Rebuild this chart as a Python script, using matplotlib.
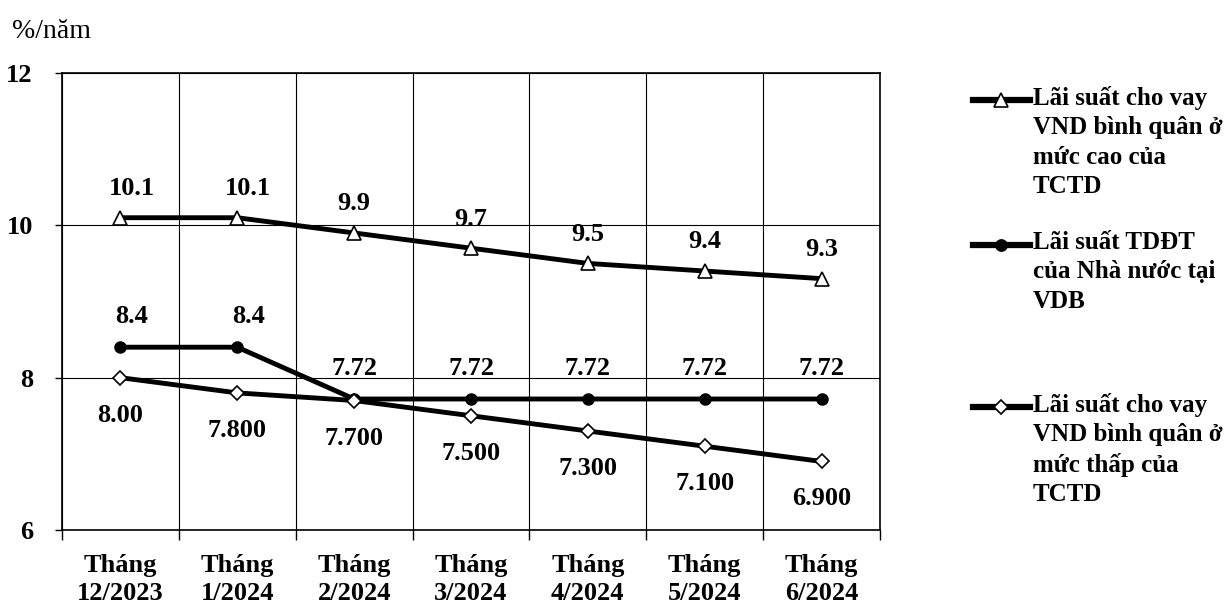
import matplotlib
matplotlib.use('Agg')
import matplotlib.pyplot as plt
from matplotlib.lines import Line2D
import numpy as np

months = ['Tháng\n12/2023', 'Tháng\n1/2024', 'Tháng\n2/2024', 'Tháng\n3/2024',
          'Tháng\n4/2024', 'Tháng\n5/2024', 'Tháng\n6/2024']
high_rate = [10.1, 10.1, 9.9, 9.7, 9.5, 9.4, 9.3]
high_labels = ['10.1', '10.1', '9.9', '9.7', '9.5', '9.4', '9.3']
vdb_rate = [8.4, 8.4, 7.72, 7.72, 7.72, 7.72, 7.72]
vdb_labels = ['8.4', '8.4', '7.72', '7.72', '7.72', '7.72', '7.72']
low_rate = [8.0, 7.8, 7.7, 7.5, 7.3, 7.1, 6.9]
low_labels = ['8.00', '7.800', '7.700', '7.500', '7.300', '7.100', '6.900']
legend_names = ['Lãi suất cho vay\nVND bình quân ở\nmức cao của\nTCTD',
                'Lãi suất TDĐT\ncủa Nhà nước tại\nVDB',
                'Lãi suất cho vay\nVND bình quân ở\nmức thấp của\nTCTD']

plt.rcParams['font.family'] = ['Liberation Serif', 'DejaVu Serif']
plt.rcParams['font.weight'] = 'bold'
fs = 19

fig = plt.figure(figsize=(12.3, 6.06), dpi=100)
ax = fig.add_axes([62 / 1230, 1 - 530 / 606, 818 / 1230, 457 / 606])

x = np.arange(len(months))
lw = 3.5
ax.plot(x, high_rate, color='black', lw=lw, marker='^', ms=10, mfc='white', mec='black', mew=1.2, zorder=3)
ax.plot(x, vdb_rate, color='black', lw=lw, marker='o', ms=8, mfc='black', mec='black', zorder=3)
ax.plot(x, low_rate, color='black', lw=lw, marker='D', ms=7, mfc='white', mec='black', mew=1.2, zorder=4)

for xi, v, s in zip(x, high_rate, high_labels):
    ax.annotate(s, (xi, v), xytext=(8 if xi < 2 else 0, 21), textcoords='offset points', ha='center',
                va='center', fontsize=fs, fontweight='bold')
for xi, v, s in zip(x, vdb_rate, vdb_labels):
    ax.annotate(s, (xi, v), xytext=(8 if xi < 2 else 0, 22), textcoords='offset points', ha='center',
                va='center', fontsize=fs, fontweight='bold')
for xi, v, s in zip(x, low_rate, low_labels):
    ax.annotate(s, (xi, v), xytext=(0, -27), textcoords='offset points', ha='center', va='center',
                fontsize=fs, fontweight='bold')

ax.set_xlim(-0.5, len(months) - 0.5)
ax.set_ylim(6, 12)
ax.set_yticks([6, 8, 10, 12])
ax.set_yticklabels(['6', '8', '10', '12'])
ax.set_xticks(x)
ax.set_xticklabels(months, linespacing=1.3)
plt.setp(ax.get_xticklabels() + ax.get_yticklabels(), fontsize=fs, fontweight='bold')
ax.set_xticks(np.arange(-0.5, len(months)), minor=True)
ax.tick_params(axis='x', which='major', length=0, pad=17)
ax.tick_params(axis='x', which='minor', length=7, width=1, direction='out')
ax.tick_params(axis='y', length=5, width=1, direction='out', pad=16)
ax.grid(True, axis='x', which='minor', color='black', lw=0.8)
ax.grid(True, axis='y', which='major', color='black', lw=0.8)
for sp in ax.spines.values():
    sp.set_linewidth(1.2)

fig.text(12 / 1230, 1 - 31 / 606, '%/năm', fontsize=fs + 1, fontweight='normal', ha='left', va='center')

# legend, handle aligned with the first text line
markers = [('^', 'white', 10), ('o', 'black', 8), ('D', 'white', 7)]
leg_y = [100, 245, 407]
for (m, fc, ms), name, y in zip(markers, legend_names, leg_y):
    yf = 1 - y / 606
    fig.add_artist(Line2D([973 / 1230, 1030 / 1230], [yf, yf], transform=fig.transFigure,
                          color='black', lw=4.5))
    fig.add_artist(Line2D([1001 / 1230], [yf], transform=fig.transFigure, marker=m, ms=ms,
                          mfc=fc, mec='black', mew=1.2, lw=0))
    fig.text(1033 / 1230, 1 - (y - 14) / 606, name, fontsize=18, fontweight='bold',
             ha='left', va='top', linespacing=1.35)

fig.savefig('out.png', dpi=100)
